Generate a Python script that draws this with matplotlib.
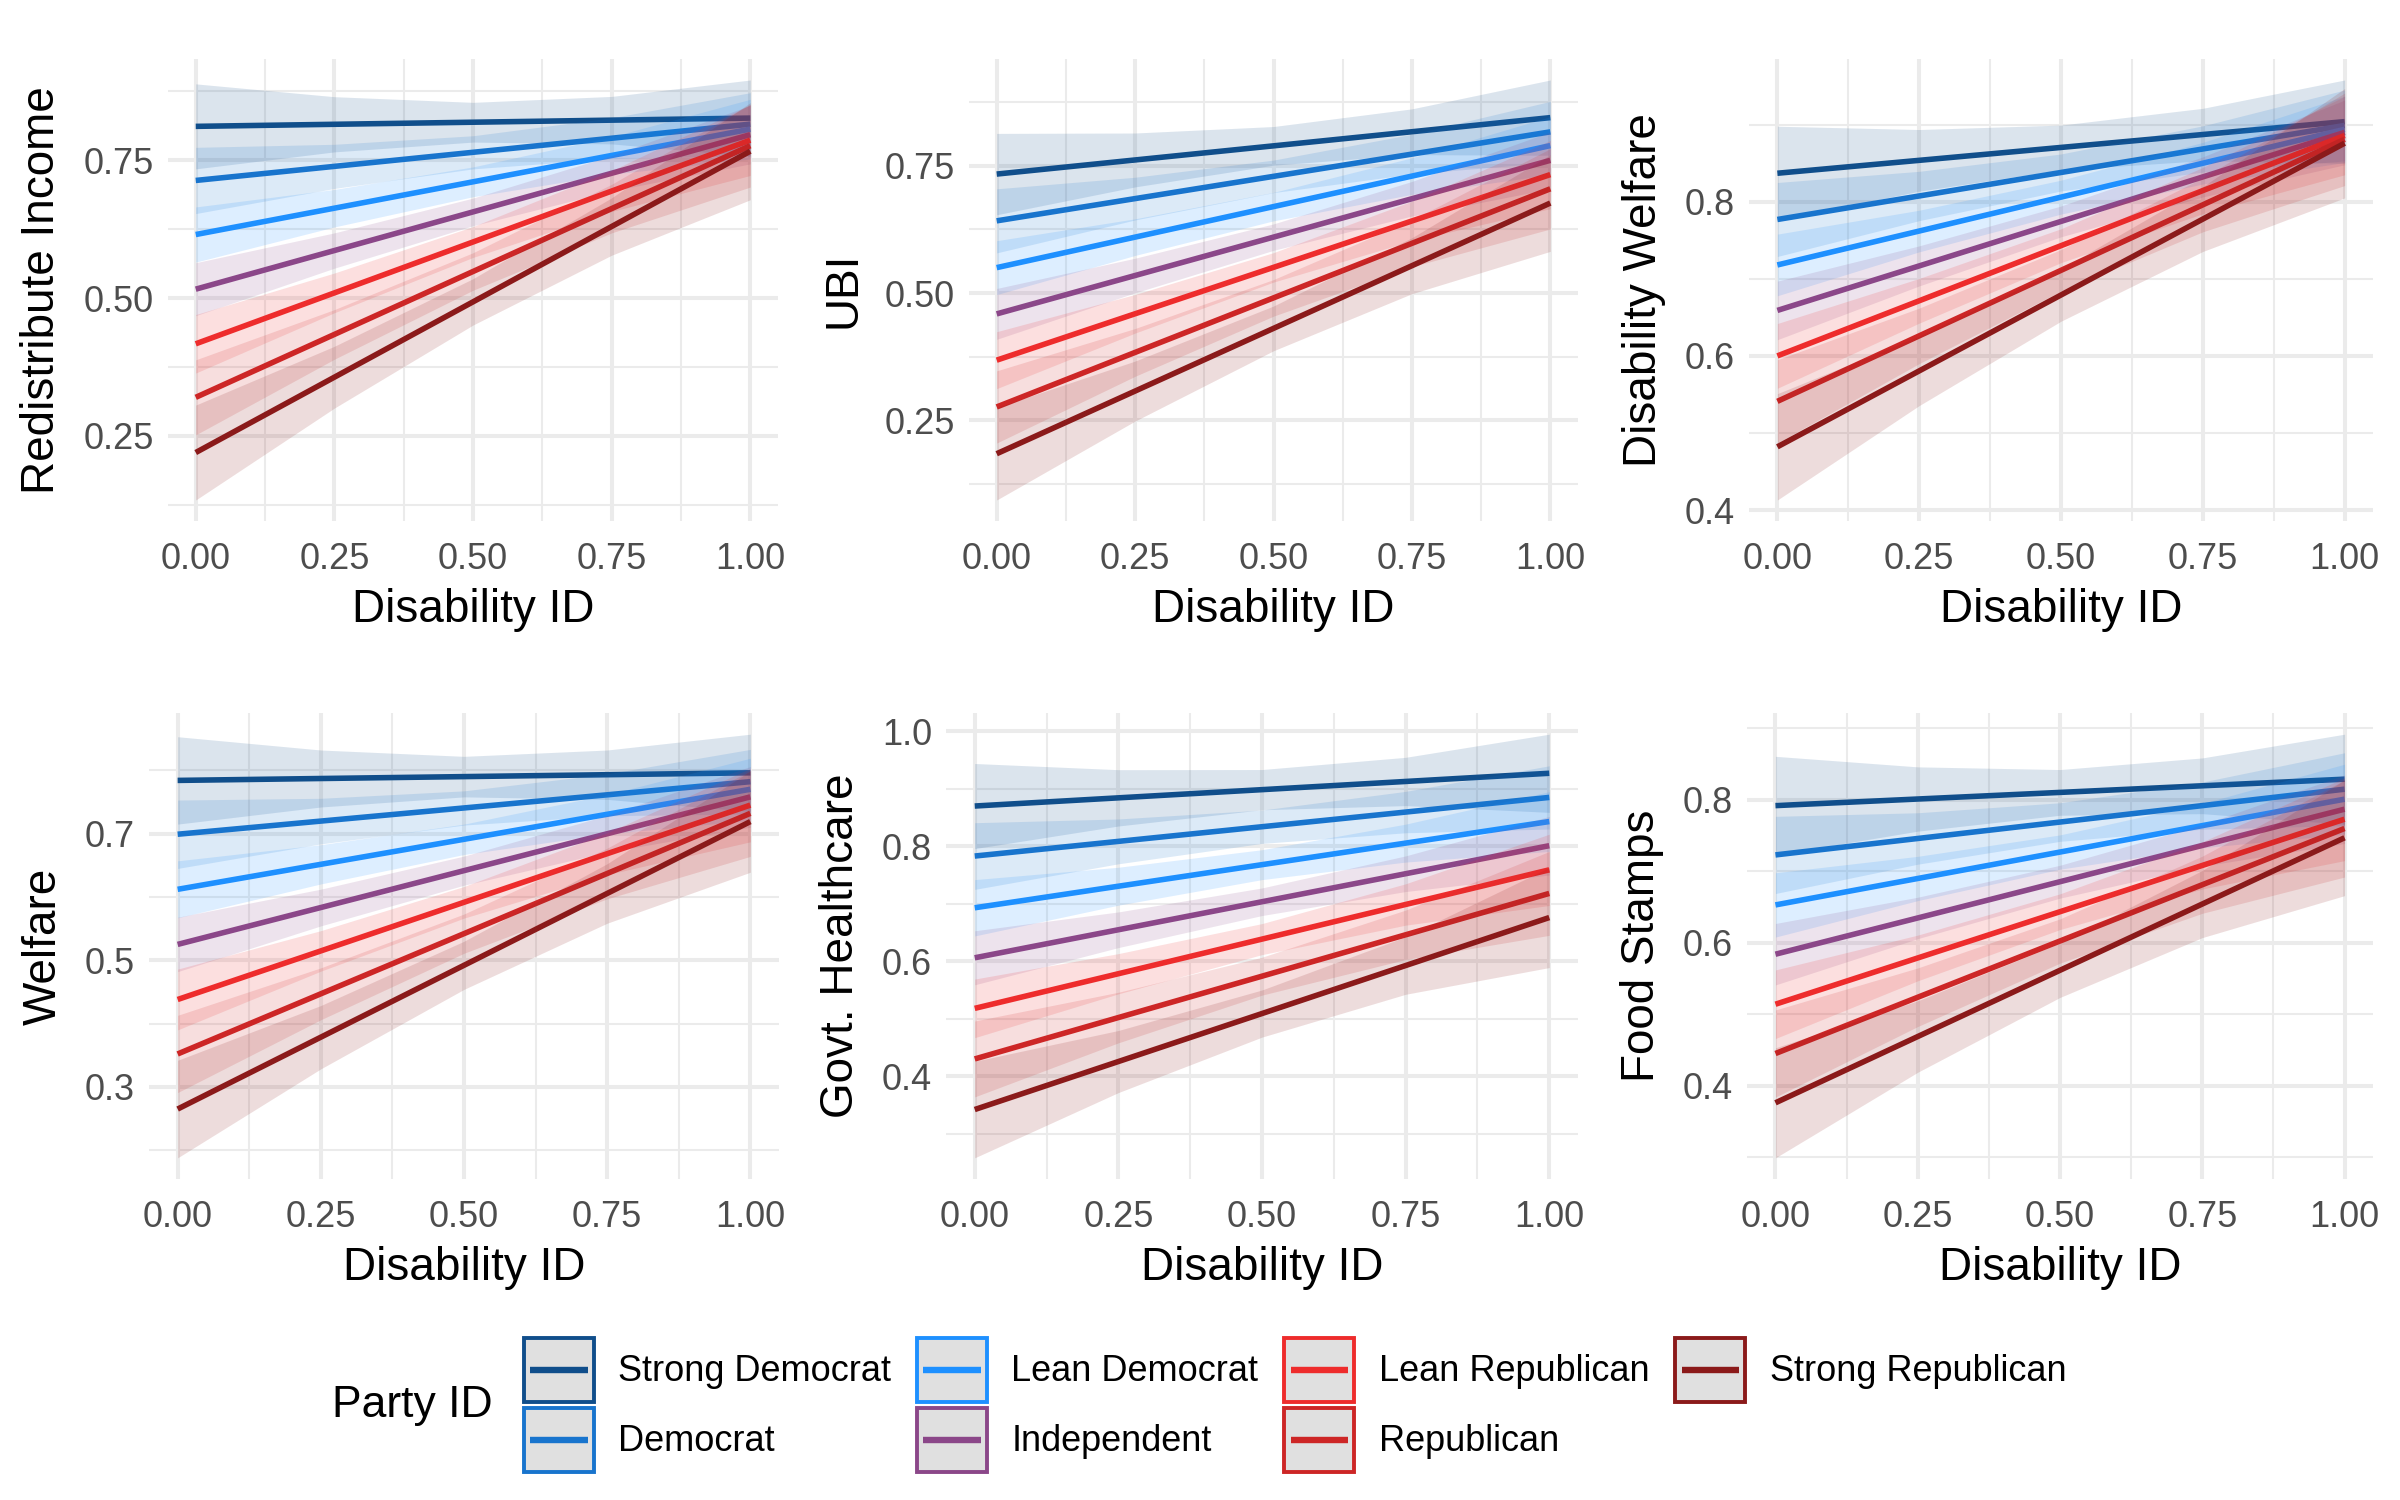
import numpy as np
import matplotlib
matplotlib.use("Agg")
import matplotlib.pyplot as plt
from matplotlib.lines import Line2D
from matplotlib.patches import Rectangle
from matplotlib.legend_handler import HandlerBase
from matplotlib.ticker import FixedLocator, FormatStrFormatter

plt.rcParams['font.family'] = ['Liberation Sans', 'DejaVu Sans']

# ---------------- data ----------------
party_ids = ["Strong Democrat", "Democrat", "Lean Democrat", "Independent",
             "Lean Republican", "Republican", "Strong Republican"]
party_colors = ["#104E8B", "#1874CD", "#1E90FF", "#8B4789",
                "#EE2C2C", "#CD2626", "#8B1A1A"]

outcomes = ["Redistribute Income", "UBI", "Disability Welfare",
            "Welfare", "Govt. Healthcare", "Food Stamps"]

# x positions where the confidence band half-widths were read
band_x = [0.0, 0.25, 0.5, 0.75, 1.0]

# fitted value at Disability ID = 0 and = 1 (one per party group)
fit_at_0 = {
    "Redistribute Income": [0.811, 0.713, 0.615, 0.516, 0.417, 0.320, 0.220],
    "UBI":                 [0.734, 0.642, 0.550, 0.459, 0.368, 0.276, 0.184],
    "Disability Welfare":  [0.837, 0.777, 0.718, 0.659, 0.600, 0.541, 0.482],
    "Welfare":             [0.784, 0.699, 0.612, 0.525, 0.438, 0.352, 0.265],
    "Govt. Healthcare":    [0.870, 0.783, 0.693, 0.606, 0.518, 0.430, 0.342],
    "Food Stamps":         [0.792, 0.723, 0.653, 0.584, 0.514, 0.445, 0.376],
}
fit_at_1 = {
    "Redistribute Income": [0.826, 0.815, 0.806, 0.796, 0.786, 0.776, 0.766],
    "UBI":                 [0.845, 0.817, 0.790, 0.761, 0.733, 0.705, 0.677],
    "Disability Welfare":  [0.904, 0.899, 0.894, 0.890, 0.886, 0.881, 0.876],
    "Welfare":             [0.796, 0.782, 0.770, 0.758, 0.745, 0.732, 0.719],
    "Govt. Healthcare":    [0.927, 0.885, 0.843, 0.801, 0.759, 0.718, 0.676],
    "Food Stamps":         [0.829, 0.815, 0.801, 0.787, 0.773, 0.760, 0.747],
}

# confidence band half-width at band_x, per party group
band_halfwidth = {
    "Redistribute Income": [
        [0.077, 0.050, 0.036, 0.043, 0.069],
        [0.060, 0.040, 0.030, 0.037, 0.057],
        [0.050, 0.034, 0.027, 0.034, 0.054],
        [0.048, 0.032, 0.025, 0.032, 0.053],
        [0.053, 0.036, 0.028, 0.037, 0.064],
        [0.068, 0.045, 0.034, 0.044, 0.075],
        [0.086, 0.056, 0.042, 0.052, 0.088]],
    "UBI": [
        [0.080, 0.053, 0.038, 0.045, 0.074],
        [0.063, 0.042, 0.032, 0.039, 0.060],
        [0.053, 0.036, 0.028, 0.036, 0.057],
        [0.050, 0.034, 0.026, 0.034, 0.056],
        [0.056, 0.038, 0.029, 0.039, 0.067],
        [0.071, 0.047, 0.036, 0.046, 0.079],
        [0.091, 0.059, 0.044, 0.055, 0.095]],
    "Disability Welfare": [
        [0.061, 0.040, 0.029, 0.034, 0.054],
        [0.048, 0.032, 0.024, 0.030, 0.046],
        [0.040, 0.027, 0.022, 0.027, 0.043],
        [0.038, 0.026, 0.020, 0.026, 0.042],
        [0.042, 0.029, 0.022, 0.030, 0.051],
        [0.054, 0.036, 0.027, 0.035, 0.060],
        [0.069, 0.045, 0.034, 0.042, 0.071]],
    "Welfare": [
        [0.069, 0.045, 0.032, 0.039, 0.061],
        [0.054, 0.036, 0.027, 0.033, 0.051],
        [0.045, 0.031, 0.024, 0.031, 0.049],
        [0.043, 0.029, 0.023, 0.029, 0.048],
        [0.048, 0.032, 0.025, 0.033, 0.058],
        [0.061, 0.041, 0.031, 0.040, 0.068],
        [0.077, 0.050, 0.038, 0.047, 0.080]],
    "Govt. Healthcare": [
        [0.074, 0.049, 0.035, 0.042, 0.068],
        [0.058, 0.039, 0.029, 0.036, 0.055],
        [0.049, 0.033, 0.026, 0.033, 0.052],
        [0.047, 0.031, 0.024, 0.031, 0.051],
        [0.051, 0.035, 0.027, 0.036, 0.062],
        [0.066, 0.044, 0.033, 0.043, 0.073],
        [0.084, 0.054, 0.041, 0.050, 0.087]],
    "Food Stamps": [
        [0.069, 0.045, 0.032, 0.039, 0.063],
        [0.054, 0.036, 0.027, 0.033, 0.051],
        [0.045, 0.031, 0.024, 0.031, 0.049],
        [0.043, 0.029, 0.023, 0.029, 0.048],
        [0.048, 0.032, 0.025, 0.033, 0.058],
        [0.061, 0.041, 0.031, 0.040, 0.068],
        [0.077, 0.050, 0.038, 0.047, 0.081]],
}

x_ticks = [0.0, 0.25, 0.5, 0.75, 1.0]
x_minor = [0.125, 0.375, 0.625, 0.875]
y_ticks = {
    "Redistribute Income": [0.25, 0.50, 0.75],
    "UBI":                 [0.25, 0.50, 0.75],
    "Disability Welfare":  [0.4, 0.6, 0.8],
    "Welfare":             [0.3, 0.5, 0.7],
    "Govt. Healthcare":    [0.4, 0.6, 0.8, 1.0],
    "Food Stamps":         [0.4, 0.6, 0.8],
}
y_minor = {
    "Redistribute Income": [0.125, 0.375, 0.625, 0.875],
    "UBI":                 [0.125, 0.375, 0.625, 0.875],
    "Disability Welfare":  [0.5, 0.7, 0.9],
    "Welfare":             [0.2, 0.4, 0.6, 0.8],
    "Govt. Healthcare":    [0.3, 0.5, 0.7, 0.9],
    "Food Stamps":         [0.3, 0.5, 0.7, 0.9],
}
y_fmt = {
    "Redistribute Income": "%.2f", "UBI": "%.2f", "Disability Welfare": "%.1f",
    "Welfare": "%.1f", "Govt. Healthcare": "%.1f", "Food Stamps": "%.1f",
}

# ---------------- layout ----------------
W, H = 2400, 1500
DPI = 200
fig = plt.figure(figsize=(W / DPI, H / DPI), dpi=DPI)

panel_px = {  # left, top, right, bottom in pixels
    "Redistribute Income": (168, 59, 778, 521),
    "UBI":                 (969, 59, 1578, 521),
    "Disability Welfare":  (1749, 59, 2373, 521),
    "Welfare":             (149, 713, 779, 1179),
    "Govt. Healthcare":    (946, 713, 1578, 1179),
    "Food Stamps":         (1747, 713, 2373, 1179),
}

GRID = "#EBEBEB"
TICK_COLOR = "#4D4D4D"
TICK_FS = 13
TITLE_FS = 16.5

for outcome in outcomes:
    l, t, r, b = panel_px[outcome]
    ax = fig.add_axes([l / W, 1 - b / H, (r - l) / W, (b - t) / H])
    xs = np.array(band_x)
    lo_all, hi_all = [], []
    for g, (name, col) in enumerate(zip(party_ids, party_colors)):
        y0 = fit_at_0[outcome][g]
        y1 = fit_at_1[outcome][g]
        fit = y0 + (y1 - y0) * xs
        hw = np.array(band_halfwidth[outcome][g])
        ax.fill_between(xs, fit - hw, fit + hw, color=col, alpha=0.15,
                        linewidth=0, zorder=2 + 2 * g)
        ax.plot([0.0, 1.0], [y0, y1], color=col, lw=2.0,
                solid_capstyle="butt", zorder=3 + 2 * g)
        lo_all.append((fit - hw).min())
        hi_all.append((fit + hw).max())
    lo, hi = min(lo_all), max(hi_all)
    pad = 0.05 * (hi - lo)
    ax.set_ylim(lo - pad, hi + pad)
    ax.set_xlim(-0.05, 1.05)

    ax.xaxis.set_major_locator(FixedLocator(x_ticks))
    ax.xaxis.set_minor_locator(FixedLocator(x_minor))
    ax.xaxis.set_major_formatter(FormatStrFormatter("%.2f"))
    ax.yaxis.set_major_locator(FixedLocator(y_ticks[outcome]))
    ax.yaxis.set_minor_locator(FixedLocator(y_minor[outcome]))
    ax.yaxis.set_major_formatter(FormatStrFormatter(y_fmt[outcome]))

    ax.grid(which="major", color=GRID, lw=1.45)
    ax.grid(which="minor", color=GRID, lw=0.75)
    ax.set_axisbelow(True)
    for s in ax.spines.values():
        s.set_visible(False)
    ax.tick_params(which="both", length=0)
    ax.tick_params(axis="x", labelsize=TICK_FS, labelcolor=TICK_COLOR, pad=7.5)
    ax.tick_params(axis="y", labelsize=TICK_FS, labelcolor=TICK_COLOR, pad=5)
    ax.set_xlabel("Disability ID", fontsize=TITLE_FS, labelpad=4)
    ax.set_ylabel(outcome, fontsize=TITLE_FS, labelpad=7)


# ---------------- legend ----------------
class KeyHandler(HandlerBase):
    def create_artists(self, legend, orig_handle, xdescent, ydescent,
                       width, height, fontsize, trans):
        col = orig_handle.get_color()
        rect = Rectangle((-xdescent, -ydescent), width, height,
                         facecolor="#E0E0E0", edgecolor=col, lw=1.4,
                         transform=trans)
        line = Line2D([-xdescent + 0.09 * width, -xdescent + 0.91 * width],
                      [-ydescent + height / 2] * 2, color=col, lw=2.3,
                      solid_capstyle="butt", transform=trans)
        return [rect, line]


handles = [Line2D([], [], color=c) for c in party_colors]
fig.legend(handles, party_ids, ncol=4, loc="center",
           bbox_to_anchor=(0.5396, 0.0633), frameon=False, fontsize=13,
           handlelength=1.94, handleheight=2.35, handletextpad=0.67,
           columnspacing=0.72, labelspacing=0.17, borderpad=0.0,
           handler_map={Line2D: KeyHandler()})
fig.text(493 / W, 0.0633, "Party ID", ha="right", va="center", fontsize=16)

fig.savefig("out.png", dpi=DPI, facecolor="white")
